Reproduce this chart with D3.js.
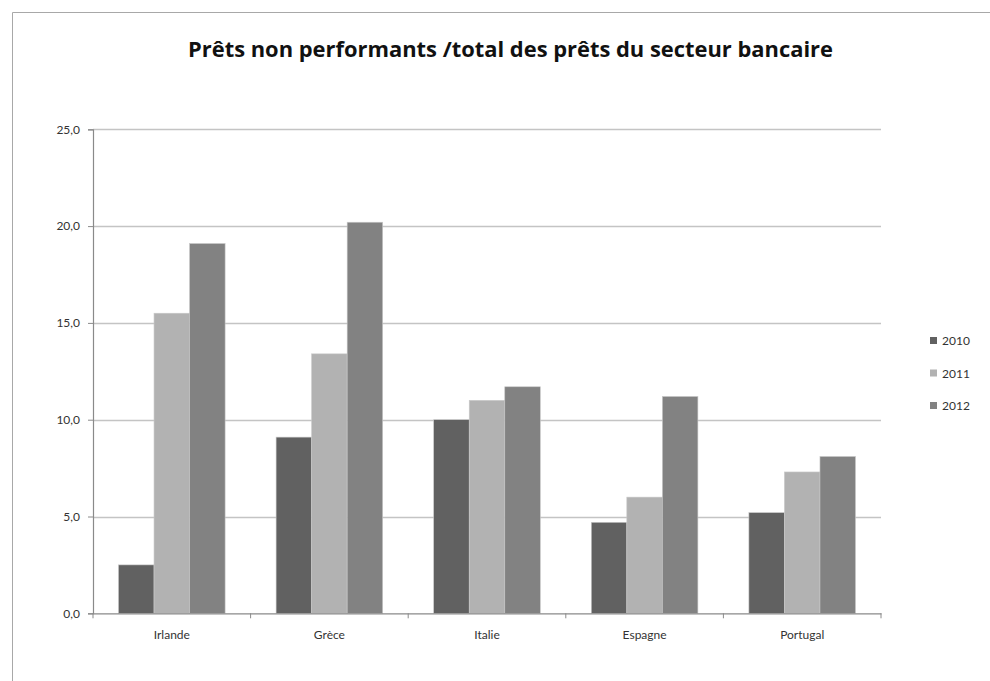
<!DOCTYPE html>
<html><head><meta charset="utf-8">
<script src="https://cdnjs.cloudflare.com/ajax/libs/d3/7.8.5/d3.min.js"></script>
<style>body{margin:0;background:#fff}svg{display:block}</style>
</head><body>
<script>
const categories = ["Irlande", "Grèce", "Italie", "Espagne", "Portugal"];
const seriesNames = ["2010", "2011", "2012"];
const values2010 = [2.5, 9.1, 10.0, 4.7, 5.2];
const values2011 = [15.5, 13.4, 11.0, 6.0, 7.3];
const values2012 = [19.1, 20.2, 11.7, 11.2, 8.1];
const yTicks = [0, 5, 10, 15, 20, 25];
const colors = ["#616161", "#b2b2b2", "#828282"];
const title = "Prêts non performants /total des prêts du secteur bancaire";

const W = 990, H = 681;
const svg = d3.select("body").append("svg").attr("width", W).attr("height", H);
const font = "Lato, 'Open Sans', sans-serif";

// frame
svg.append("path").attr("d", `M12.5,${H} V12.5 H${W}`).attr("fill", "none").attr("stroke", "#a8a8a8").attr("stroke-width", 1);

const plotLeft = 93, plotRight = 881, plotTop = 129.3, plotBottom = 613.3;
const y = d3.scaleLinear().domain([0, 25]).range([plotBottom, plotTop]);
const x0 = d3.scaleBand().domain(categories).range([plotLeft, plotRight]).padding(0);
const pad = 25.5;
const x1 = d3.scaleBand().domain(seriesNames).range([pad, x0.bandwidth() - pad]).padding(0);

// gridlines
svg.append("g").selectAll("line").data(yTicks.filter(d => d > 0)).join("line")
  .attr("x1", plotLeft).attr("x2", plotRight)
  .attr("y1", d => Math.round(y(d)) + 0.5).attr("y2", d => Math.round(y(d)) + 0.5)
  .attr("stroke", "#c4c4c4").attr("stroke-width", 1.5);

// title
svg.append("text").attr("x", 188).attr("y", 57)
  .attr("font-family", "'Open Sans', Lato, sans-serif").attr("font-weight", "bold").attr("font-size", 21).attr("fill", "#111")
  .attr("textLength", 645).attr("lengthAdjust", "spacingAndGlyphs")
  .text(title);

// bars
const data = [values2010, values2011, values2012];
const groups = svg.append("g").selectAll("g").data(categories).join("g")
  .attr("transform", d => `translate(${x0(d)},0)`);
groups.selectAll("rect").data((c, i) => seriesNames.map((s, k) => ({s, v: data[k][i], k})))
  .join("rect")
  .attr("x", d => x1(d.s)).attr("width", x1.bandwidth())
  .attr("y", d => y(d.v)).attr("height", d => y(0) - y(d.v))
  .attr("fill", d => colors[d.k]).attr("stroke", "#c8c8c8").attr("stroke-width", 0.6);

// y axis
const yAxis = svg.append("g").attr("transform", `translate(${plotLeft},0)`)
  .call(d3.axisLeft(y).tickValues(yTicks).tickSize(5).tickPadding(8)
    .tickFormat(d => d3.format(".1f")(d).replace(".", ",")));
yAxis.select(".domain").attr("stroke", "#8a8a8a").attr("stroke-width", 1.2);
yAxis.selectAll(".tick line").attr("stroke", "#8a8a8a");
yAxis.selectAll("text").attr("font-family", font).attr("font-size", 12).attr("fill", "#333");

// x axis
const xAxis = svg.append("g").attr("transform", `translate(0,${plotBottom})`)
  .call(d3.axisBottom(x0).tickSize(0).tickPadding(17));
xAxis.select(".domain").attr("stroke", "#8a8a8a").attr("stroke-width", 1.2);
xAxis.selectAll("text").attr("font-family", font).attr("font-size", 12).attr("fill", "#333");
const bounds = categories.map(c => x0(c)).concat([plotRight]);
xAxis.selectAll(".sep").data(bounds).join("line").attr("class", "sep")
  .attr("x1", d => d).attr("x2", d => d).attr("y1", 0).attr("y2", 5)
  .attr("stroke", "#8a8a8a");

// legend
const lg = svg.append("g").selectAll("g").data(seriesNames).join("g")
  .attr("transform", (d, i) => `translate(930,${337 + i * 32.5})`);
lg.append("rect").attr("width", 7).attr("height", 7).attr("fill", (d, i) => colors[i]);
lg.append("text").attr("x", 12).attr("y", 8).attr("font-family", font).attr("font-size", 12).attr("fill", "#333").text(d => d);
</script>
</body></html>
